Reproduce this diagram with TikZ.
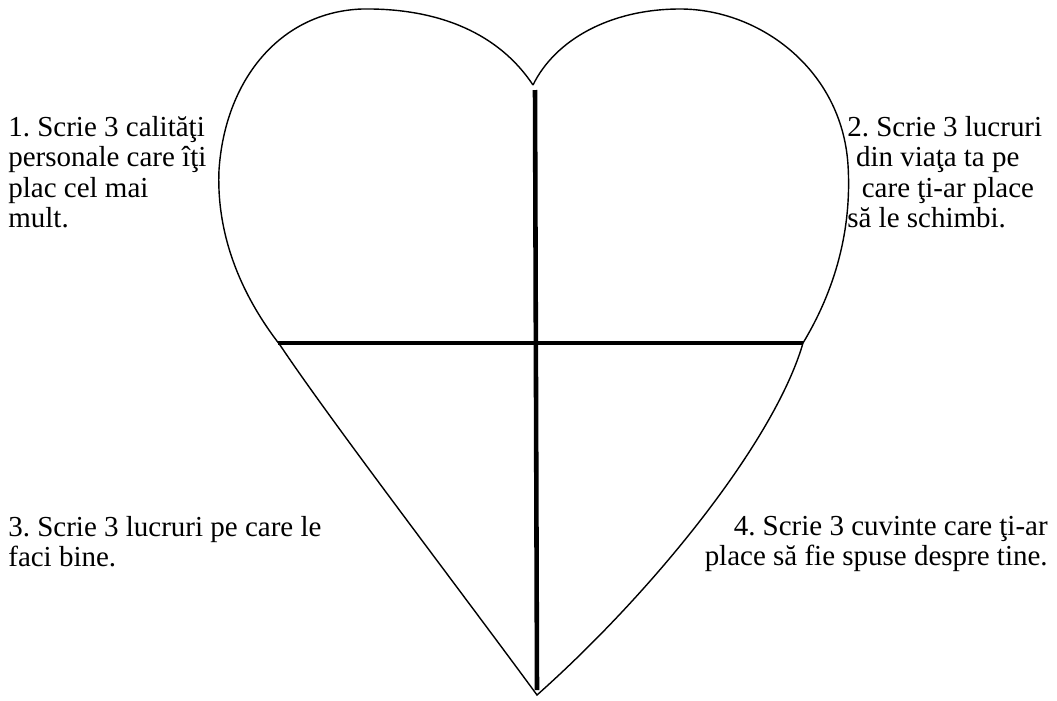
\documentclass[tikz,border=0pt]{standalone}
\usepackage{fontspec}
\setmainfont{Liberation Serif}
\usetikzlibrary{positioning}
\frenchspacing

\begin{document}
\begin{tikzpicture}[x=0.02cm, y=-0.02cm, every node/.style={font=\fontsize{16.5}{17.3}\selectfont, inner sep=0pt}]
        \useasboundingbox (0,0) rectangle (1057,700);
        % heart outline
        \draw[line width=0.8pt] (533,85) .. controls (495,28) and (430,8) .. (362,9)
            .. controls (280,12) and (225,80) .. (219,170)
            .. controls (216,240) and (245,300) .. (280,345)
            .. controls (330,420) and (460,590) .. (537,695)
            .. controls (655,590) and (775,440) .. (803,343)
            .. controls (835,290) and (852,230) .. (848,165)
            .. controls (842,70) and (760,9) .. (680,9)
            .. controls (610,9) and (555,40) .. (533,85);
        \coordinate (top) at (535,90);
        \coordinate (tip) at (537,690);
        \coordinate (left) at (278,343);
        \coordinate (right) at (803,343);
        \draw[line width=2.6pt] (top) -- (tip);
        \draw[line width=2.2pt] (left) -- (right);
        \node[anchor=north west, align=left] (q1) at (8,116) {1. Scrie 3 calităţi\\personale care îţi\\plac cel mai\\mult.};
        \node[anchor=north west, align=left] (q2) at (847,116) {2. Scrie 3 lucruri\\\hspace*{0.3em}din viaţa ta pe\\\hspace*{0.5em}care ţi-ar place\\să le schimbi.};
        \node[anchor=north west, align=left] (q3) at (8,516) {3. Scrie 3 lucruri pe care le\\faci bine.};
        \node[anchor=north east, align=right] (q4) at (1048,516) {4. Scrie 3 cuvinte care ţi-ar\\place să fie spuse despre tine.};
    \end{tikzpicture}
\end{document}
